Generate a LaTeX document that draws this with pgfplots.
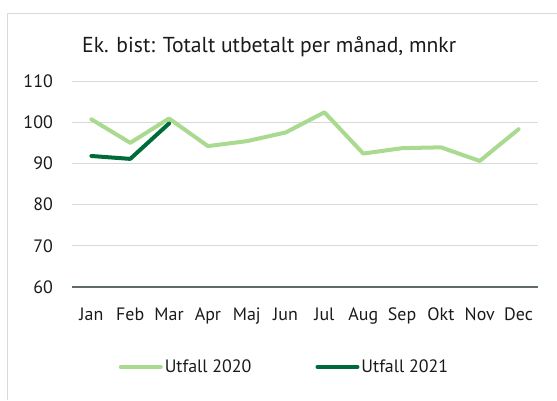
\documentclass[border=0pt]{standalone}
\usepackage{fontspec}
\setmainfont{PT Sans}
\usepackage{pgfplots}
\pgfplotsset{compat=1.18}
\definecolor{lg}{HTML}{A9DA8F}
\definecolor{dg}{HTML}{006B3A}
\definecolor{gridc}{HTML}{D9D9D9}
\definecolor{axc}{HTML}{5F6B6B}
\definecolor{txt}{HTML}{1A1A1A}
\begin{document}
\begin{tikzpicture}[x=1bp,y=1bp]
\useasboundingbox (0,0) rectangle (557,-400);
\draw[color=gridc, line width=1.5bp] (7.5,-400) -- (7.5,-13.5) -- (557,-13.5);
\node[anchor=base west, font=\fontsize{21.7}{24}\selectfont, text=txt, inner sep=0] at (82,-52) {Ek. bist: Totalt utbetalt per månad, mnkr};
\begin{axis}[
  at={(72bp,-287bp)}, anchor=south west,
  width=466bp, height=206bp, scale only axis,
  xmin=-0.5, xmax=11.5, ymin=60, ymax=110,
  ytick={60,70,...,110},
  xtick={0,...,11},
  xticklabels={Jan,Feb,Mar,Apr,Maj,Jun,Jul,Aug,Sep,Okt,Nov,Dec},
  axis x line*=bottom, axis y line*=left,
  y axis line style={draw=none},
  x axis line style={draw=axc, line width=1.5bp},
  major tick length=0pt,
  ymajorgrids, grid style={color=gridc, line width=1bp},
  /pgf/number format/assume math mode=true,
  tick label style={font=\fontsize{18}{20}\selectfont, text=txt},
  yticklabel style={anchor=east, inner sep=0pt, xshift=-19bp},
  xticklabel style={anchor=base, yshift=-33bp},
  legend style={at={(0.456,-0.388)}, anchor=center, draw=none, fill=none,
    font=\fontsize{18}{20}\selectfont, text=txt,
    /tikz/every even column/.append style={column sep=62bp}},
  legend columns=2,
  legend cell align=left,
  legend image code/.code={\draw[#1, line width=4bp] (0bp,0bp) -- (40bp,0bp);},
]
\addplot[lg, line width=4bp, line join=round, line cap=round] coordinates {
(0,100.7) (1,95.0) (2,100.9) (3,94.2) (4,95.4) (5,97.5) (6,102.4) (7,92.4) (8,93.7) (9,93.9) (10,90.6) (11,98.3)};
\addlegendentry{Utfall 2020}
\addplot[dg, line width=4bp, line join=round, line cap=round] coordinates {
(0,91.8) (1,91.1) (2,99.7)};
\addlegendentry{Utfall 2021}
\end{axis}
\end{tikzpicture}
\end{document}
